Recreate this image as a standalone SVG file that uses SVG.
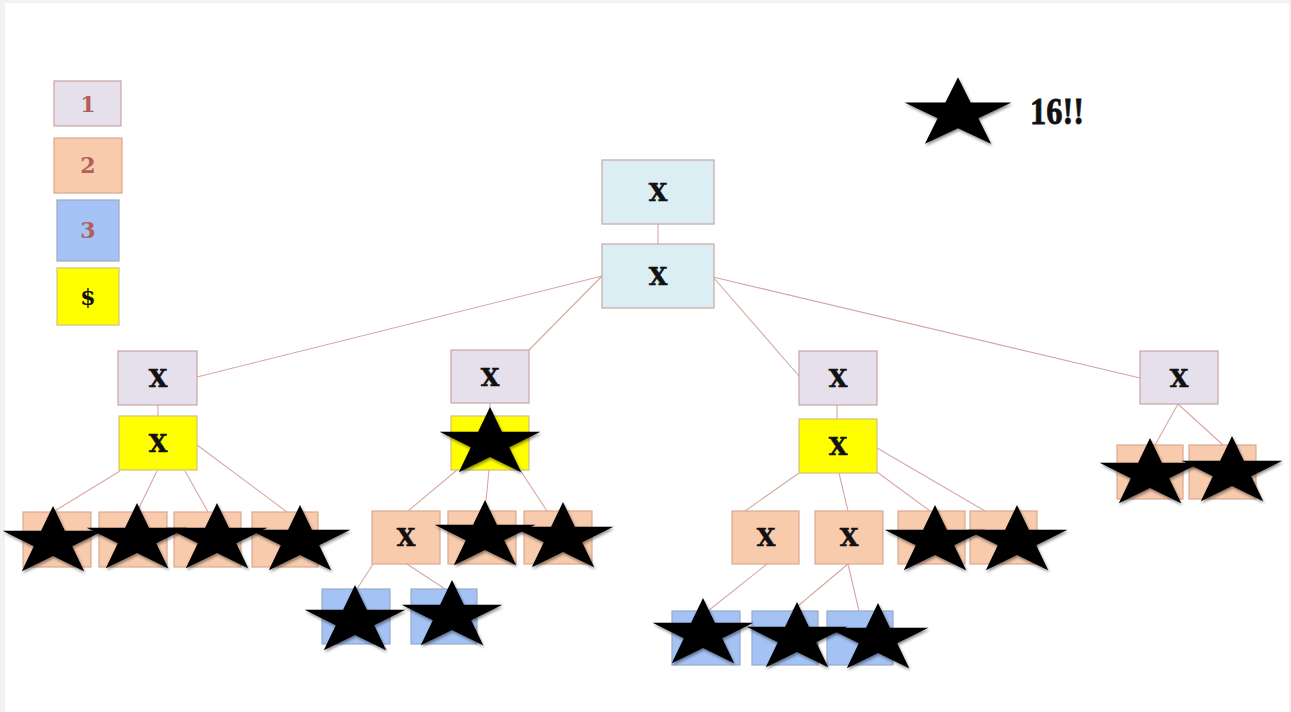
<svg xmlns="http://www.w3.org/2000/svg" xmlns:xlink="http://www.w3.org/1999/xlink" width="1291" height="712" viewBox="0 0 1291 712">
<style>
.lav{fill:#e6e0ec;stroke:#c8a3a3;stroke-width:1.2}
.pea{fill:#f8cbad;stroke:#d9a98f;stroke-width:1.2}
.blu{fill:#a4c2f4;stroke:#9aa8c8;stroke-width:1.2}
.yel{fill:#ffff00;stroke:#d2c080;stroke-width:1.2}
.root{fill:#dbeef4;stroke:#c9a6a6;stroke-width:1.2}
.t{font-family:"DejaVu Serif","Liberation Serif",serif;font-weight:900;font-size:24px;fill:#111;text-anchor:middle;stroke:#111;stroke-width:0.6}
.lg{font-family:"DejaVu Serif","Liberation Serif",serif;font-weight:bold;font-size:22px;fill:#b35d5d;text-anchor:middle}
#connectors line{stroke:#d6a8a4;stroke-width:1.1}
.star{fill:#000;filter:url(#sh)}
</style>
<defs>
<filter id="sh" x="-20%" y="-20%" width="140%" height="150%">
<feDropShadow dx="1" dy="2" stdDeviation="1.5" flood-color="#000" flood-opacity="0.45"/>
</filter>
<path id="st" d="M0,-36 L11.9,-11.2 L50.4,-11.2 L19.2,4.2 L31.2,29.2 L0,13.9 L-31.2,29.2 L-19.2,4.2 L-50.4,-11.2 L-11.9,-11.2 Z"/>
</defs>
<rect x="0" y="0" width="1291" height="712" fill="#f2f2f2"/>
<rect x="5" y="3" width="1284" height="709" fill="#ffffff"/>

<g id="legend">
<rect class="lav" x="54" y="81" width="67" height="45"/><text class="lg" x="88" y="112">1</text>
<rect class="pea" x="54" y="138" width="68" height="55"/><text class="lg" x="88" y="173">2</text>
<rect class="blu" x="57" y="200" width="62" height="61"/><text class="lg" x="88" y="238">3</text>
<rect class="yel" x="57" y="268" width="62" height="57"/><text class="lg" x="88" y="305" style="fill:#111">$</text>
</g>
<g id="legend-star">
<use href="#st" class="star" transform="translate(958,114) scale(1.06,1.02)"/>
<text x="1030" y="124" font-family="Liberation Serif, serif" font-weight="bold" font-size="37" textLength="54" lengthAdjust="spacingAndGlyphs" fill="#111" stroke="#111" stroke-width="0.8">16!!</text>
</g>

<g id="connectors">
<line x1="658" y1="224" x2="658" y2="244"/>
<line x1="602" y1="276" x2="197" y2="377"/>
<line x1="602" y1="276" x2="529" y2="350"/>
<line x1="713" y1="277" x2="799" y2="376"/>
<line x1="713" y1="277" x2="1140" y2="378"/>
<line x1="158" y1="405" x2="158" y2="416"/>
<line x1="120" y1="471" x2="53" y2="512"/>
<line x1="157" y1="471" x2="137" y2="512"/>
<line x1="185" y1="471" x2="208" y2="512"/>
<line x1="197" y1="445" x2="287" y2="512"/>
<line x1="490" y1="403" x2="490" y2="416"/>
<line x1="457" y1="470" x2="408" y2="511"/>
<line x1="489" y1="470" x2="485" y2="511"/>
<line x1="520" y1="470" x2="547" y2="511"/>
<line x1="373" y1="564" x2="357" y2="589"/>
<line x1="407" y1="564" x2="445" y2="589"/>
<line x1="837" y1="405" x2="837" y2="419"/>
<line x1="799" y1="473" x2="745" y2="511"/>
<line x1="839" y1="473" x2="848" y2="511"/>
<line x1="877" y1="472" x2="930" y2="511"/>
<line x1="877" y1="448" x2="985" y2="511"/>
<line x1="767" y1="564" x2="708" y2="611"/>
<line x1="848" y1="564" x2="792" y2="611"/>
<line x1="848" y1="564" x2="859" y2="611"/>
<line x1="1178" y1="404" x2="1155" y2="445"/>
<line x1="1178" y1="404" x2="1223" y2="445"/>
</g>

<g id="root1"><rect class="root" x="602" y="160" width="112" height="64"/><text class="t" x="658" y="201">X</text></g>
<g id="root2"><rect class="root" x="602" y="244" width="112" height="64"/><text class="t" x="658" y="285">X</text></g>

<g id="L1"><rect class="lav" x="118" y="351" width="79" height="54"/><text class="t" x="158" y="387">X</text></g>
<g id="L1y"><rect class="yel" x="119" y="416" width="78" height="54"/><text class="t" x="158" y="452">X</text></g>
<g id="L1a"><rect class="pea" x="23" y="512" width="68" height="55"/></g>
<g id="L1b"><rect class="pea" x="99" y="512" width="68" height="55"/></g>
<g id="L1c"><rect class="pea" x="174" y="512" width="67" height="55"/></g>
<g id="L1d"><rect class="pea" x="252" y="512" width="66" height="55"/></g>

<g id="M1"><rect class="lav" x="451" y="350" width="78" height="53"/><text class="t" x="490" y="386">X</text></g>
<g id="M1y"><rect class="yel" x="451" y="416" width="78" height="54"/></g>
<g id="M1a"><rect class="pea" x="372" y="511" width="68" height="53"/><text class="t" x="406" y="546">X</text></g>
<g id="M1b"><rect class="pea" x="448" y="511" width="68" height="53"/></g>
<g id="M1c"><rect class="pea" x="524" y="511" width="68" height="53"/></g>
<g id="M1d"><rect class="blu" x="322" y="589" width="68" height="55"/></g>
<g id="M1e"><rect class="blu" x="411" y="589" width="66" height="55"/></g>

<g id="R1"><rect class="lav" x="799" y="351" width="78" height="54"/><text class="t" x="838" y="387">X</text></g>
<g id="R1y"><rect class="yel" x="799" y="419" width="78" height="54"/><text class="t" x="838" y="455">X</text></g>
<g id="R1a"><rect class="pea" x="732" y="511" width="67" height="53"/><text class="t" x="766" y="546">X</text></g>
<g id="R1b"><rect class="pea" x="815" y="511" width="68" height="53"/><text class="t" x="849" y="546">X</text></g>
<g id="R1c"><rect class="pea" x="898" y="511" width="67" height="53"/></g>
<g id="R1d"><rect class="pea" x="970" y="511" width="67" height="53"/></g>
<g id="R1e"><rect class="blu" x="672" y="611" width="68" height="54"/></g>
<g id="R1f"><rect class="blu" x="752" y="611" width="66" height="54"/></g>
<g id="R1g"><rect class="blu" x="827" y="611" width="66" height="54"/></g>

<g id="F1"><rect class="lav" x="1140" y="351" width="78" height="53"/><text class="t" x="1179" y="387">X</text></g>
<g id="F1a"><rect class="pea" x="1117" y="445" width="66" height="54"/></g>
<g id="F1b"><rect class="pea" x="1189" y="445" width="67" height="54"/></g>

<g id="stars">
<use href="#st" class="star" transform="translate(53,542)"/>
<use href="#st" class="star" transform="translate(137,539)"/>
<use href="#st" class="star" transform="translate(217,539)"/>
<use href="#st" class="star" transform="translate(300,541)"/>
<use href="#st" class="star" transform="translate(490,443)"/>
<use href="#st" class="star" transform="translate(485,536)"/>
<use href="#st" class="star" transform="translate(563,538)"/>
<use href="#st" class="star" transform="translate(355,621)"/>
<use href="#st" class="star" transform="translate(452,616)"/>
<use href="#st" class="star" transform="translate(935,541)"/>
<use href="#st" class="star" transform="translate(1017,541)"/>
<use href="#st" class="star" transform="translate(703,634)"/>
<use href="#st" class="star" transform="translate(797,638)"/>
<use href="#st" class="star" transform="translate(878,639)"/>
<use href="#st" class="star" transform="translate(1150,474)"/>
<use href="#st" class="star" transform="translate(1232,472)"/>
</g>
</svg>
